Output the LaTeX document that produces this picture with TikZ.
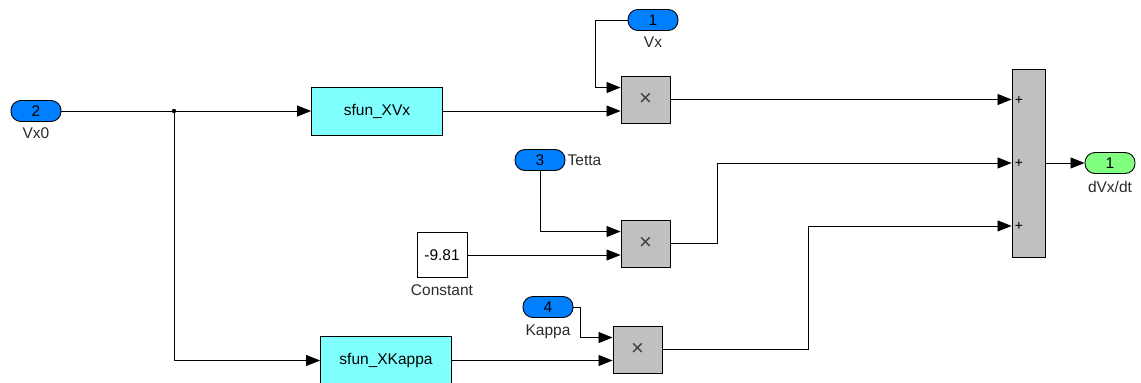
\documentclass[tikz,border=0pt]{standalone}
\usepackage{fontspec}
\setmainfont{Liberation Sans}
\usetikzlibrary{arrows.meta,positioning,calc}
\definecolor{cPort}{HTML}{0080FF}
\definecolor{cOut}{HTML}{80FF80}
\definecolor{cFun}{HTML}{80FFFF}
\definecolor{cBlk}{HTML}{C0C0C0}
\definecolor{cLbl}{HTML}{2E2A26}
\tikzset{
  blk/.style={draw=black, line width=0.9pt, fill=#1, text=black,
              font=\fontsize{15.5}{17}\selectfont, inner sep=0pt},
  port/.style={blk=cPort, rounded corners=10pt, minimum width=50pt, minimum height=21pt},
  outport/.style={port, fill=cOut},
  sfun/.style={blk=cFun, minimum width=131pt, minimum height=48pt},
  prod/.style={blk=cBlk, minimum width=49pt, minimum height=47pt, text=black!75,
               font=\fontsize{22}{22}\selectfont},
  const/.style={blk=white, minimum width=50pt, minimum height=45pt},
  sumblk/.style={blk=cBlk, minimum width=33pt, minimum height=188pt},
  wire/.style={line width=0.8pt},
  sig/.style={wire, -{Triangle[length=14pt,width=11pt]}},
  lbl/.style={font=\fontsize{15.5}{17}\selectfont, text=cLbl, inner sep=1pt},
}

\begin{document}
\begin{tikzpicture}[x=1pt, y=-1pt]
  \useasboundingbox (0,0) rectangle (1141,383);

  % ports
  \node[port] (vx0) at (36,111) {2};
  \node[lbl, below=5pt of vx0] (vx0lbl) {Vx0};
  \node[port] (vx) at (653,20) {1};
  \node[lbl, below=5pt of vx] (vxlbl) {Vx};
  \node[port] (tetta) at (540,160) {3};
  \node[lbl, right=1pt of tetta] (tettalbl) {Tetta};
  \node[port] (kappa) at (548,307) {4};
  \node[lbl, below=6pt of kappa] (kappalbl) {Kappa};
  \node[outport] (dvx) at (1110,163) {1};
  \node[lbl, below=6pt of dvx] (dvxlbl) {dVx/dt};

  % blocks
  \node[sfun] (sfunVx) at (377,111) {sfun\_XVx};
  \node[sfun] (sfunK) at (386,360.5) {sfun\_XKappa};
  \node[const] (cnst) at (442,255) {-9.81};
  \node[lbl, below=6pt of cnst] (cnstlbl) {Constant};
  \node[prod] (prod1) at (645.5,99.5) {×};
  \node[prod] (prod2) at (645.5,243.5) {×};
  \node[prod] (prod3) at (637.5,349.5) {×};
  \node[sumblk] (sum) at (1028.5,163) {};

  % input ports of the blocks
  \foreach \p in {1,2,3} {
    \coordinate (p\p a) at ($(prod\p.north west)!0.25!(prod\p.south west)$);
    \coordinate (p\p b) at ($(prod\p.north west)!0.75!(prod\p.south west)$);
  }
  \coordinate (s1) at ($(sum.north west)!1/6!(sum.south west)$);
  \coordinate (s2) at ($(sum.north west)!0.5!(sum.south west)$);
  \coordinate (s3) at ($(sum.north west)!5/6!(sum.south west)$);
  \foreach \s in {1,2,3}
    \node[lbl, right=2pt of s\s, text=black, font=\fontsize{14}{14}\selectfont] (plus\s) {+};

  % wires
  \coordinate (split) at (174,111);
  \draw[wire] (vx0.east) -- (split);
  \fill (split) circle (2.2pt);
  \draw[sig] (split) -- (sfunVx.west);
  \draw[sig] (split) |- (sfunK.west);
  \draw[sig] (sfunVx.east) -- (sfunVx.east -| p1b);
  \draw[sig] (vx.west) -- ++(-32,0) |- (p1a);
  \draw[sig] (tetta.south) |- (p2a);
  \draw[sig] (cnst.east) -- (cnst.east -| p2b);
  \draw[sig] (kappa.east) -- ++(7,0) |- (p3a);
  \draw[sig] (sfunK.east) -- (sfunK.east -| p3b);
  \draw[sig] (prod1.east) -- (prod1.east -| s1);
  \draw[sig] (prod2.east) -- ++(47,0) |- (s2);
  \draw[sig] (prod3.east) -- ++(146,0) |- (s3);
  \draw[sig] (sum.east) -- (dvx.west);
\end{tikzpicture}
\end{document}
